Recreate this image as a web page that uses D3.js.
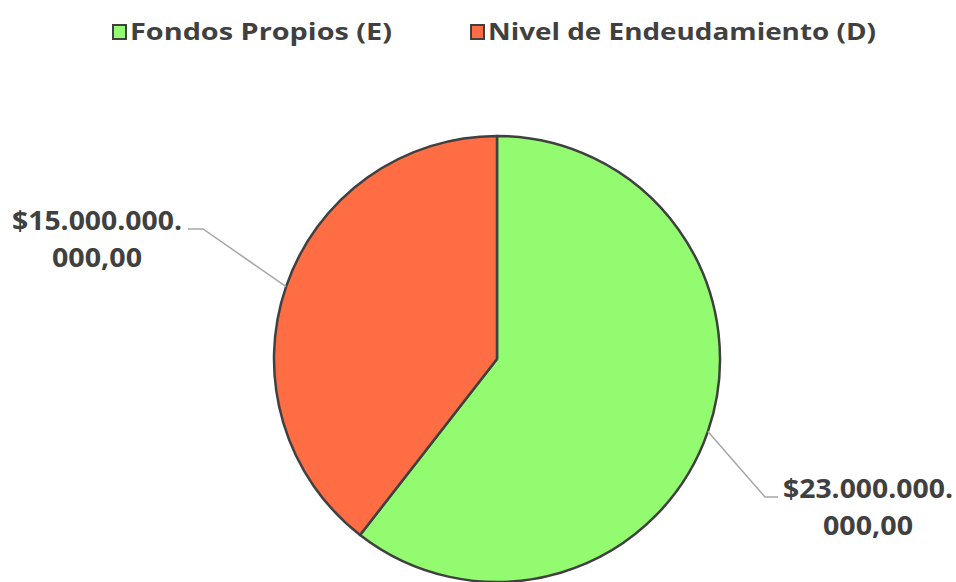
<!DOCTYPE html>
<html>
<head>
<meta charset="utf-8">
<script src="https://cdn.jsdelivr.net/npm/d3@7"></script>
<style>
  body { margin: 0; background: #fff; }
  svg { display: block; }
</style>
</head>
<body>
<div id="chart"></div>
<script>
// Data
var categories = ["Fondos Propios (E)", "Nivel de Endeudamiento (D)"];
var values = [23000000000, 15000000000];
var labelLines = [["$23.000.000.", "000,00"], ["$15.000.000.", "000,00"]];
var colors = ["#93fb6f", "#ff6d45"];

var width = 956, height = 582;
var cx = 497, cy = 359, r = 223;

var svg = d3.select("#chart").append("svg")
    .attr("width", width)
    .attr("height", height);

// Legend
var legendX = [112, 470];
var legendW = [262, 388];
var legend = svg.selectAll(".legend")
    .data(categories)
    .enter().append("g")
    .attr("class", "legend")
    .attr("transform", function(d, i) { return "translate(" + legendX[i] + ",24)"; });

legend.append("rect")
    .attr("x", 1).attr("y", 1)
    .attr("width", 13).attr("height", 14)
    .attr("fill", function(d, i) { return colors[i]; })
    .attr("stroke", "#404040")
    .attr("stroke-width", 2);

legend.append("text")
    .attr("x", 18)
    .attr("y", 16)
    .attr("font-family", "Open Sans")
    .attr("font-weight", "bold")
    .attr("font-size", "23px")
    .attr("fill", "#404040")
    .attr("textLength", function(d, i) { return legendW[i]; })
    .attr("lengthAdjust", "spacingAndGlyphs")
    .text(function(d) { return d; });

// Pie
var pie = d3.pie().sort(null).value(function(d) { return d; });
var arc = d3.arc().innerRadius(0).outerRadius(r);
var arcs = pie(values);

var g = svg.append("g").attr("transform", "translate(" + cx + "," + cy + ")");

g.selectAll("path.slice")
    .data(arcs)
    .enter().append("path")
    .attr("class", "slice")
    .attr("d", arc)
    .attr("fill", function(d, i) { return colors[i]; })
    .attr("stroke", "#404040")
    .attr("stroke-width", 2.5)
    .attr("stroke-linejoin", "round");

// Leader lines + labels (elbow / text anchor offsets relative to pie center)
var elbow = [[268, 138], [-294, -130]];
var tail = [[281, 138], [-309, -130]];
var textPos = [[371, 139], [-400, -129]];

arcs.forEach(function(d, i) {
    var a = (d.startAngle + d.endAngle) / 2;
    var p0 = [Math.sin(a) * r, -Math.cos(a) * r];
    g.append("polyline")
        .attr("points", [p0, elbow[i], tail[i]].map(function(p) { return p.join(","); }).join(" "))
        .attr("fill", "none")
        .attr("stroke", "#a6a6a6")
        .attr("stroke-width", 1.5);

    var t = g.append("text")
        .attr("x", textPos[i][0])
        .attr("y", textPos[i][1])
        .attr("text-anchor", "middle")
        .attr("font-family", "Open Sans")
        .attr("font-weight", "bold")
        .attr("font-size", "27px")
        .attr("fill", "#404040");
    labelLines[i].forEach(function(line, j) {
        t.append("tspan")
            .attr("x", textPos[i][0])
            .attr("dy", j === 0 ? 0 : 37)
            .attr("textLength", j === 0 ? 170 : 90)
            .attr("lengthAdjust", "spacingAndGlyphs")
            .text(line);
    });
});
</script>
</body>
</html>
